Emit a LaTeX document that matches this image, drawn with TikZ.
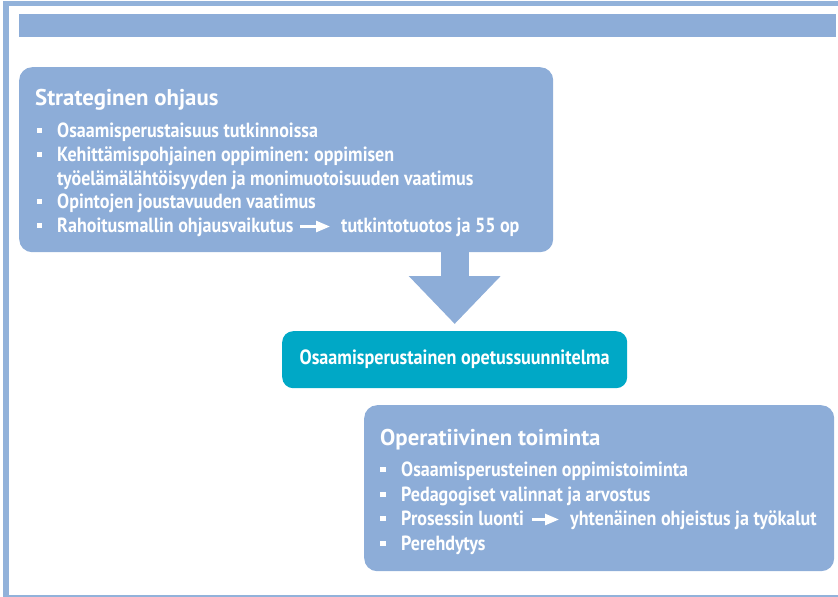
\documentclass[tikz,border=0pt]{standalone}
\usepackage{fontspec}
\setmainfont{PT Sans}
\newfontfamily\condfont[FakeStretch=0.88]{PT Sans}
\usetikzlibrary{arrows.meta,calc}

\definecolor{panelblue}{RGB}{141,173,216}
\definecolor{framecol}{RGB}{146,178,218}
\definecolor{tealbox}{RGB}{0,168,198}

\tikzset{
  panel/.style={fill=panelblue, rounded corners=13pt, draw=none, anchor=north west, inner sep=0pt},
  midbox/.style={fill=tealbox, rounded corners=11pt, draw=none, anchor=north west, inner sep=0pt,
    text=white, font=\condfont\bfseries\fontsize{20.6}{24}\selectfont},
  heading/.style={anchor=base west, inner sep=0pt, text=white, font=\bfseries\fontsize{22.8}{26}\selectfont},
  itemtext/.style={anchor=base west, inner sep=0pt, text=white, font=\condfont\bfseries\fontsize{20.5}{24}\selectfont},
  bulletsq/.style={fill=white, draw=none, minimum size=5.5pt, inner sep=0pt},
  inlinearrow/.style={draw=white, line width=2.6pt, -{Triangle[length=14pt,width=11pt]}},
  bigarrow/.style={draw=panelblue, line width=28pt, -{Triangle[length=48pt,width=89pt]}}
}

\begin{document}
\begin{tikzpicture}[x=1pt,y=-1pt]
\useasboundingbox (0,0) rectangle (838,597);

% page frame
\fill[framecol] (3,1) rectangle (8.5,597);
\fill[framecol] (3,1.3) rectangle (838,6.3);
\fill[framecol] (3,595.2) rectangle (838,596.6);

% title banner
\node[fill=panelblue, anchor=north west, inner sep=0pt, minimum width=817pt, minimum height=23pt] (banner) at (19,14) {};

% strategic steering panel
\node[panel, minimum width=534pt, minimum height=185pt] (strat) at (19,67) {};
\node[heading] (sh) at (35,105.5) {Strateginen ohjaus};
\node[itemtext] (s1) at (57,137) {Osaamisperustaisuus tutkinnoissa};
\node[itemtext] (s2) at (57,161) {Kehittämispohjainen oppiminen: oppimisen};
\node[itemtext] (s2b) at (57,185) {työelämälähtöisyyden ja monimuotoisuuden vaatimus};
\node[itemtext] (s3) at (57,208) {Opintojen joustavuuden vaatimus};
\node[itemtext] (s4) at (57,232) {Rahoitusmallin ohjausvaikutus};
\node[itemtext] (s4b) at (341,232) {tutkintotuotos ja 55 op};
\foreach \y/\n in {137/a,161/b,208/c,232/d}
  \node[bulletsq] (sb\n) at (39.5,\y-6.5) {};
\draw[inlinearrow] ($(s4.base east)+(6,-5.5)$) -- ($(s4b.base west)+(-11,-5.5)$);

% curriculum box
\node[midbox, minimum width=345pt, minimum height=57pt] (mid) at (282,331) {Osaamisperustainen opetussuunnitelma};

% flow arrow
\draw[bigarrow] (mid.north |- strat.south) -- ([yshift=7pt]mid.north);

% operational panel
\node[panel, minimum width=470pt, minimum height=166pt] (oper) at (364,405) {};
\node[heading] (oh) at (380,445) {Operatiivinen toiminta};
\node[itemtext] (o1) at (401,476) {Osaamisperusteinen oppimistoiminta};
\node[itemtext] (o2) at (401,501) {Pedagogiset valinnat ja arvostus};
\node[itemtext] (o3) at (401,525) {Prosessin luonti};
\node[itemtext] (o3b) at (570,525) {yhtenäinen ohjeistus ja työkalut};
\node[itemtext] (o4) at (401,550) {Perehdytys};
\foreach \y/\n in {476/a,501/b,525/c,550/d}
  \node[bulletsq] (ob\n) at (383,\y-6.5) {};
\draw[inlinearrow] ($(o3.base east)+(8,-5.5)$) -- ($(o3b.base west)+(-11,-5.5)$);
\end{tikzpicture}
\end{document}
